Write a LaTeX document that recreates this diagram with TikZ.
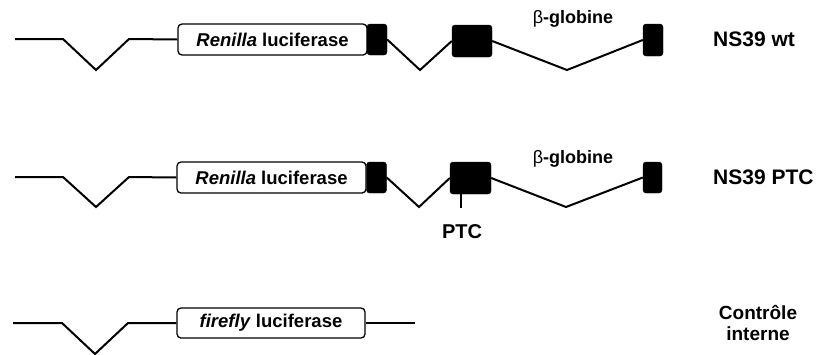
\documentclass[tikz,border=0pt]{standalone}
\usepackage{fontspec}
\setmainfont{Liberation Sans}
\begin{document}
\begin{tikzpicture}[x=1pt,y=-1pt,
  gene/.style={draw, line width=1.3pt, rounded corners=4pt, minimum width=189pt, minimum height=31pt, inner sep=0pt, font=\fontsize{18.5}{20}\selectfont\bfseries},
  exon/.style={fill=black, draw=black, rounded corners=3pt, inner sep=0pt, minimum width=20pt, minimum height=31pt},
  intr/.style={line width=2pt, line join=miter},
  lbl/.style={font=\fontsize{21}{24}\selectfont\bfseries, inner sep=0pt, anchor=west},
  glob/.style={font=\fontsize{18}{20}\selectfont\bfseries, inner sep=0pt}]
\useasboundingbox (0,0) rectangle (819,354);

% Row 1: NS39 wt
\coordinate (s1) at (15,39);
\coordinate (p1) at (63,39);
\coordinate (q1) at (96,70);
\coordinate (r1) at (129,39);
\node[gene] (ren1) at (272.5,39.5) {\textit{Renilla} luciferase};
\node[exon] (e1a) at (377,39.5) {};
\coordinate (v1) at (420,70);
\node[exon, minimum width=40pt, minimum height=32pt] (e1b) at (472,41) {};
\coordinate (w1) at (567,70);
\node[exon, minimum height=32pt] (e1c) at (653,40) {};
\draw[intr] (s1) -- (p1) -- (q1) -- (r1) -- (ren1.west);
\draw[intr] (e1a.east) -- (v1) -- (e1b.west);
\draw[intr] (e1b.east) -- (w1) -- (e1c.west);
\node[glob] (g1) at (573,19) {{\mdseries β}-globine};
\node[lbl] (n1) at (713,39) {NS39 wt};

% Row 2: NS39 PTC
\coordinate (s2) at (15,177);
\coordinate (p2) at (63,177);
\coordinate (q2) at (96,207);
\coordinate (r2) at (129,177);
\node[gene] (ren2) at (271.5,177.5) {\textit{Renilla} luciferase};
\node[exon] (e2a) at (376.5,177.5) {};
\coordinate (v2) at (419,207);
\node[exon, minimum width=41pt, minimum height=32pt] (e2b) at (470.5,178) {};
\coordinate (w2) at (566,207);
\node[exon, minimum width=19pt] (e2c) at (652.5,177.5) {};
\draw[intr] (s2) -- (p2) -- (q2) -- (r2) -- (ren2.west);
\draw[intr] (e2a.east) -- (v2) -- (e2b.west);
\draw[intr] (e2b.east) -- (w2) -- (e2c.west);
\coordinate (t2) at (461,208);
\draw[intr] (e2b.south -| t2) -- (t2);
\node[font=\fontsize{20}{22}\selectfont\bfseries, inner sep=0pt] (ptc) at (462,232) {PTC};
\node[glob] (g2) at (573,159) {{\mdseries β}-globine};
\node[lbl] (n2) at (713,177) {NS39 PTC};

% Row 3: controle interne
\coordinate (s3) at (13,323);
\coordinate (p3) at (62,323);
\coordinate (q3) at (95,354);
\coordinate (r3) at (128,323);
\node[gene, minimum width=188pt, minimum height=30pt] (ff) at (271,323) {\textit{firefly} luciferase};
\coordinate (z3) at (415,323);
\draw[intr] (s3) -- (p3) -- (q3) -- (r3) -- (ff.west);
\draw[intr] (ff.east) -- (z3);
\node[font=\fontsize{19}{21}\selectfont\bfseries, inner sep=0pt, align=center] (ci) at (758,323) {Contrôle\\interne};
\end{tikzpicture}
\end{document}
